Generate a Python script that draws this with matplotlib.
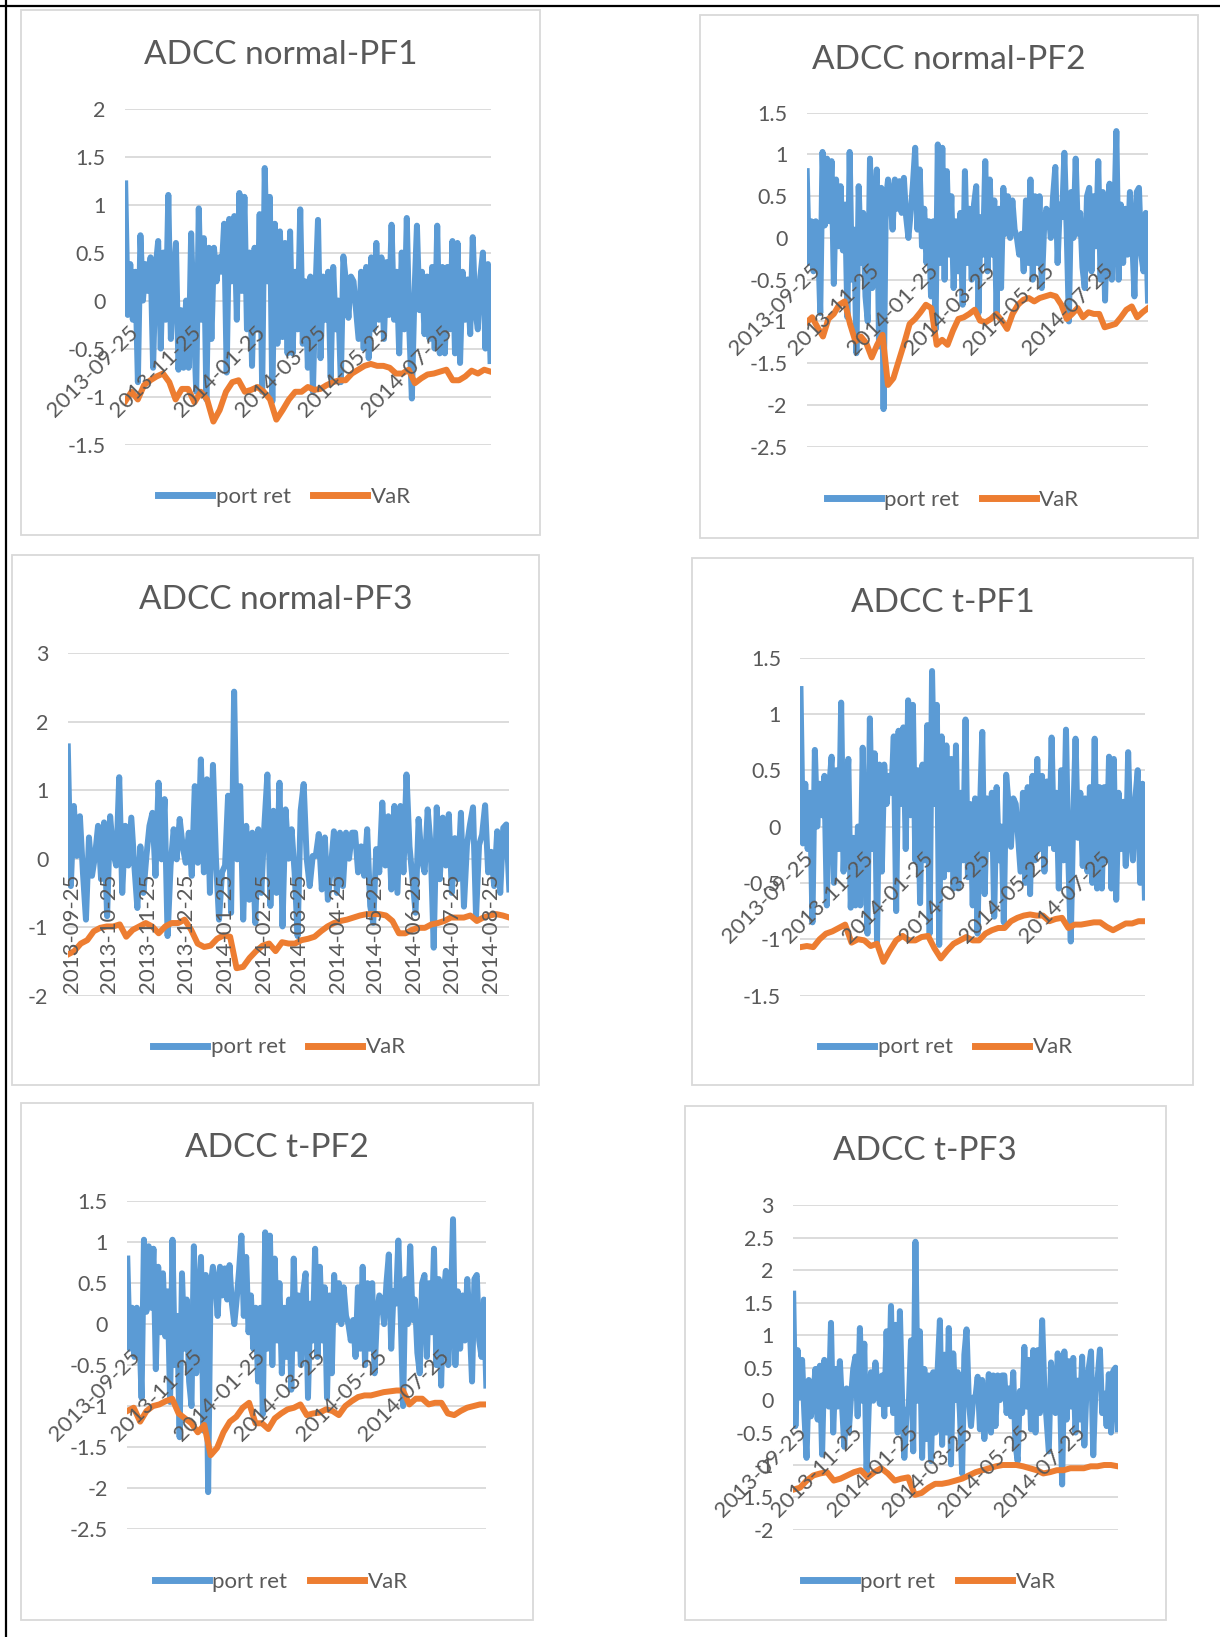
import numpy as np
import matplotlib
matplotlib.use("Agg")
import matplotlib.pyplot as plt
import matplotlib.dates as mdates
from matplotlib.transforms import ScaledTranslation
from matplotlib.patches import Rectangle
from matplotlib.lines import Line2D

plt.rcParams['font.family'] = ['Lato', 'DejaVu Sans']

# daily window of the back-test
start_date = '2013-09-25'
end_date = '2014-09-12'

# portfolio returns (shared by normal and t versions of each portfolio)
pf1_ret = [1.22, -0.15, 0.38, -0.2, 0.3, -0.85, 0.68, 0.0, 0.38, 0.1, 0.45, -0.7, 0.35, 0.62, -0.5, 0.5,
           -0.2, 1.1, -0.4, 0.2, 0.6, -0.72, -0.1, -0.7, 0.0, -0.7, 0.7, -0.2, -0.95, 0.96, -0.2, 0.65,
           -1.03, 0.55, -0.4, 0.55, 0.2, 0.45, 0.3, 0.8, -0.75, 0.85, 0.2, 0.88, -0.2, 1.12, 0.1, 1.08,
           -0.3, 0.5, -0.68, 0.55, -0.3, 0.9, -0.95, 1.38, 0.2, 1.08, -1.05, 0.8, -0.45, 0.72, -0.38, 0.6,
           -0.55, 0.72, -0.55, 0.3, -0.3, 0.95, -0.45, 0.2, -0.7, 0.25, -0.95, 0.1, 0.84, -0.6, 0.25, -0.2,
           0.3, -0.8, 0.35, -0.3, 0.0, -0.85, 0.46, 0.2, -0.18, 0.25, 0.2, -0.1, -0.4, 0.3, -0.5, 0.35,
           -0.6, 0.45, -0.3, 0.6, -0.2, 0.45, -0.4, 0.4, -0.15, 0.79, -0.2, 0.3, -0.55, 0.5, -0.3, 0.86,
           -0.3, -1.02, 0.05, 0.78, -0.1, 0.3, -0.35, 0.25, -0.4, 0.35, -0.5, 0.78, -0.55, 0.35, -0.55, 0.35,
           -0.3, 0.62, -0.55, 0.6, -0.65, 0.3, -0.2, 0.22, -0.35, 0.66, -0.1, -0.3, 0.25, 0.5, -0.5, 0.38,
           -0.63]
pf2_ret = [0.8, -0.3, 0.2, -0.4, 0.2, 0.0, -0.9, 1.03, 0.15, 0.95, 0.2, 0.92, -0.55, 0.7, -0.1, 0.62,
           -0.15, 0.4, -0.95, 1.03, -0.5, 0.1, -1.38, 0.62, -0.3, 0.3, -0.7, -1.0, 0.95, -0.6, 0.3, 0.82,
           -1.3, 0.6, -2.05, 0.45, 0.7, 0.5, 0.1, 0.7, 0.35, 0.68, 0.3, 0.72, 0.25, 0.0, 0.3, 0.65,
           1.08, 0.1, 0.82, -0.1, 0.35, -0.3, 0.2, -0.7, 0.2, -1.1, 1.12, -0.3, 1.08, -0.5, 0.8, -0.2,
           0.5, -0.6, 0.2, -0.4, 0.3, -0.8, 0.8, -0.3, 0.35, -0.5, 0.4, 0.62, -0.9, 0.25, -0.2, 0.92,
           -0.4, 0.7, -0.2, 0.45, -0.9, 0.35, -0.6, 0.6, 0.05, 0.5, 0.0, 0.45, 0.1, 0.0, -0.2, 0.05,
           -0.4, 0.45, -0.3, 0.7, -0.5, 0.5, -0.3, 0.5, -0.6, 0.1, 0.35, 0.3, 0.0, 0.5, 0.85, -0.3,
           0.4, 0.25, 1.02, 0.1, -1.0, 0.55, 0.0, 0.95, 0.05, 0.3, -0.35, -0.6, 0.5, 0.6, -0.4, 0.5,
           -0.1, 0.92, -0.5, 0.55, -0.75, 0.35, 0.65, -0.5, 0.1, 1.28, -0.5, 0.4, -0.3, 0.35, -0.2, 0.55,
           0.0, -0.7, 0.55, 0.6, -0.2, -0.4, 0.3, -0.75]
pf3_ret = [1.64, -0.4, 0.77, 0.04, 0.62, -0.2, -0.89, 0.31, -0.25, 0.04, 0.48, -0.3, 0.53, -0.84, 0.62, 0.09,
           -0.1, 1.19, -0.5, 0.48, -0.1, 0.6, -0.1, -0.72, 0.18, -0.5, 0.04, 0.48, 0.67, -0.25, 1.11, -0.01,
           0.87, -1.13, -0.1, 0.43, -0.01, 0.58, 0.18, -0.06, 0.38, -0.25, 1.06, -0.06, 1.45, -0.2, 1.16, -0.5,
           1.37, -0.01, -0.89, -0.2, -0.1, 0.92, -0.79, 2.44, -0.01, 1.06, -0.89, 0.48, -0.6, 0.38, -0.94, 0.43,
           -0.5, 0.48, 1.23, -0.69, 0.7, -0.5, 1.11, -0.99, 0.72, 0.0, 0.43, -0.2, -1.13, 0.7, 1.09, 0.0,
           -0.4, 0.04, 0.04, 0.36, -0.45, 0.31, -0.6, -0.13, 0.4, -0.5, 0.38, -0.4, 0.38, 0.0, 0.38, 0.38,
           -0.2, 0.18, -0.25, 0.43, -0.69, -0.94, 0.14, -0.2, 0.82, -0.1, 0.62, -0.45, 0.77, -0.5, 0.77, -0.2,
           1.23, 0.18, -0.3, -0.79, 0.58, 0.0, -0.2, 0.72, 0.18, -1.3, 0.75, -0.3, 0.6, -0.1, 0.65, -0.5,
           0.3, -0.3, 0.67, -0.7, 0.2, 0.5, 0.75, -0.85, 0.2, 0.35, 0.78, -0.2, 0.1, -0.4, 0.4, -0.5,
           0.45, 0.5, -0.45]

# one-day VaR forecasts
pf1_var_norm = [-1.05, -0.95, -1.03, -0.88, -0.83, -0.79, -0.76, -0.85, -1.03, -0.92, -0.92, -1.06, -0.95, -1.03,
                -1.26, -1.14, -0.95, -0.85, -0.83, -0.95, -0.93, -0.9, -0.95, -1.03, -1.24, -1.14, -1.03, -0.95,
                -0.95, -0.9, -0.93, -0.92, -0.88, -0.85, -0.83, -0.83, -0.76, -0.72, -0.68, -0.66, -0.68, -0.68,
                -0.7, -0.76, -0.76, -0.72, -0.86, -0.81, -0.77, -0.76, -0.74, -0.72, -0.83, -0.83, -0.79, -0.73,
                -0.76, -0.72, -0.74]
pf1_var_t = [-1.07, -1.06, -1.07, -1.0, -0.95, -0.93, -0.9, -0.87, -1.03, -1.0, -1.01, -1.06, -1.04, -1.2,
             -1.1, -1.01, -0.97, -1.01, -1.01, -0.98, -0.97, -1.08, -1.17, -1.1, -1.04, -1.01, -0.98, -1.01,
             -1.01, -0.95, -0.92, -0.9, -0.9, -0.84, -0.81, -0.79, -0.78, -0.79, -0.79, -0.84, -0.82, -0.81,
             -0.9, -0.87, -0.87, -0.86, -0.85, -0.85, -0.89, -0.92, -0.89, -0.86, -0.86, -0.84, -0.84]
pf2_var_norm = [-1.01, -0.95, -1.07, -1.18, -0.97, -0.91, -0.8, -0.76, -1.03, -1.24, -1.18, -1.26, -1.43,
                -1.28, -1.16, -1.76, -1.68, -1.47, -1.26, -1.03, -0.97, -0.89, -0.8, -0.84, -1.28, -1.22, -1.28,
                -1.11, -0.97, -0.95, -0.91, -0.86, -0.99, -1.01, -0.97, -0.91, -0.99, -1.09, -0.91, -0.8, -0.74,
                -0.72, -0.76, -0.72, -0.7, -0.68, -0.7, -0.8, -0.97, -0.91, -0.84, -0.95, -0.89, -0.91, -0.91,
                -1.07, -1.05, -1.03, -0.95, -0.86, -0.82, -0.95, -0.89, -0.84]
pf2_var_t = [-1.06, -1.02, -1.19, -1.06, -1.0, -0.98, -0.94, -0.91, -1.09, -1.15, -1.21, -1.32, -1.23, -1.6,
             -1.51, -1.32, -1.19, -1.13, -1.02, -0.96, -1.21, -1.21, -1.28, -1.15, -1.09, -1.04, -1.02, -0.98,
             -1.11, -1.09, -1.08, -1.04, -1.06, -1.11, -1.0, -0.94, -0.89, -0.87, -0.87, -0.85, -0.83, -0.82,
             -0.81, -0.81, -0.98, -0.91, -0.91, -0.98, -0.96, -0.96, -1.09, -1.11, -1.06, -1.02, -1.0, -0.98,
             -0.98]
pf3_var_norm = [-1.4, -1.35, -1.24, -1.19, -1.06, -1.01, -0.99, -0.99, -0.96, -1.14, -1.04, -0.99, -0.94,
                -0.99, -1.09, -0.99, -0.94, -0.94, -0.89, -1.04, -1.24, -1.29, -1.27, -1.17, -1.12, -1.14,
                -1.6, -1.58, -1.45, -1.35, -1.27, -1.24, -1.35, -1.22, -1.24, -1.24, -1.19, -1.17, -1.14, -1.06,
                -0.99, -0.94, -0.91, -0.89, -0.86, -0.83, -0.81, -0.81, -0.81, -0.83, -0.91, -1.09, -1.09, -1.04,
                -1.01, -1.01, -0.96, -0.94, -0.91, -0.86, -0.86, -0.86, -0.83, -0.91, -0.86, -0.83, -0.81, -0.83,
                -0.86]
pf3_var_t = [-1.38, -1.35, -1.24, -1.16, -1.13, -1.11, -1.24, -1.21, -1.16, -1.11, -1.08, -1.19, -1.11,
             -1.05, -1.13, -1.24, -1.21, -1.19, -1.46, -1.43, -1.35, -1.29, -1.29, -1.27, -1.24, -1.21, -1.16,
             -1.11, -1.08, -1.05, -1.02, -1.0, -1.0, -1.0, -1.02, -1.05, -1.08, -1.13, -1.11, -1.08, -1.08,
             -1.05, -1.05, -1.05, -1.02, -1.02, -1.0, -1.0, -1.02]

bimonthly = ['2013-09-25', '2013-11-25', '2014-01-25', '2014-03-25', '2014-05-25', '2014-07-25']
monthly = ['2013-09-25', '2013-10-25', '2013-11-25', '2013-12-25', '2014-01-25', '2014-02-25',
           '2014-03-25', '2014-04-25', '2014-05-25', '2014-06-25', '2014-07-25', '2014-08-25']

BLUE = '#5b9bd5'
ORANGE = '#ed7d31'
TXT = '#595959'
GRID = '#d9d9d9'

W, H = 1220, 1637
fig = plt.figure(figsize=(W / 100, H / 100), dpi=100)

t0 = mdates.datestr2num(start_date)
t1 = mdates.datestr2num(end_date)


def on_days(vals):
    return np.linspace(t0, t1, len(vals))


# box (x0, y0, x1, y1) and plot area (x0, x1, top, bottom) in pixels
panels = [
    dict(title='ADCC normal-PF1', ret=pf1_ret, var=pf1_var_norm, ylim=(-1.5, 2), step=0.5,
         box=(21, 10, 540, 535), plot=(125.2, 490.5, 108.5, 444.6), dates=bimonthly),
    dict(title='ADCC normal-PF2', ret=pf2_ret, var=pf2_var_norm, ylim=(-2.5, 1.5), step=0.5,
         box=(700, 15, 1198, 537.5), plot=(806.7, 1148, 112.7, 446.7), dates=bimonthly),
    dict(title='ADCC normal-PF3', ret=pf3_ret, var=pf3_var_norm, ylim=(-2, 3), step=1,
         box=(12.5, 555, 538.5, 1085.4), plot=(67.8, 509.3, 653.3, 995.6), dates=monthly),
    dict(title='ADCC t-PF1', ret=pf1_ret, var=pf1_var_t, ylim=(-1.5, 1.5), step=0.5,
         box=(692, 558, 1193, 1085.4), plot=(800.5, 1144.9, 657.5, 995.6), dates=bimonthly),
    dict(title='ADCC t-PF2', ret=pf2_ret, var=pf2_var_t, ylim=(-2.5, 1.5), step=0.5,
         box=(21, 1103, 533.3, 1619.7), plot=(127.3, 486.3, 1201.2, 1529.0), dates=bimonthly),
    dict(title='ADCC t-PF3', ret=pf3_ret, var=pf3_var_t, ylim=(-2, 3), step=0.5,
         box=(684.6, 1106, 1165.7, 1619.7), plot=(793.2, 1117.7, 1205.4, 1529.9), dates=bimonthly),
]

PX = 72 / 100  # points per pixel

for p in panels:
    bx0, by0, bx1, by1 = p['box']
    fig.add_artist(Rectangle((bx0 / W, 1 - by1 / H), (bx1 - bx0) / W, (by1 - by0) / H,
                             transform=fig.transFigure, fill=False, ec=GRID, lw=1.3))
    px0, px1, ptop, pbot = p['plot']
    ax = fig.add_axes([px0 / W, 1 - pbot / H, (px1 - px0) / W, (pbot - ptop) / H])

    ax.plot(on_days(p['ret']), p['ret'], color=BLUE, lw=4.3, zorder=3)
    ax.plot(on_days(p['var']), p['var'], color=ORANGE, lw=4.3, zorder=4)

    lo, hi = p['ylim']
    ticks = np.arange(lo, hi + p['step'] / 2, p['step'])
    ax.set_ylim(lo, hi)
    ax.set_xlim(t0, t1)
    ax.set_yticks(ticks)
    ax.set_yticklabels(['%g' % (round(v, 2) + 0.0) for v in ticks])
    ax.set_xticks([])
    ax.grid(axis='y', color=GRID, lw=1.3)
    ax.set_axisbelow(True)
    ax.tick_params(axis='y', length=0, pad=14, labelsize=15.5, labelcolor=TXT)
    for s in ax.spines.values():
        s.set_visible(False)

    # date labels hang under the zero line
    vertical = len(p['dates']) > 6
    for d in p['dates']:
        if vertical:
            off = ScaledTranslation(4 * PX / 72, -15 * PX / 72, fig.dpi_scale_trans)
            ax.text(mdates.datestr2num(d), 0, d, transform=ax.transData + off, rotation=90,
                    rotation_mode='anchor', ha='right', va='center', fontsize=16, color=TXT,
                    zorder=6, clip_on=False)
        else:
            off = ScaledTranslation(3 * PX / 72, -22 * PX / 72, fig.dpi_scale_trans)
            ax.text(mdates.datestr2num(d), 0, d, transform=ax.transData + off, rotation=45,
                    rotation_mode='anchor', ha='right', va='top', fontsize=16, color=TXT,
                    zorder=6, clip_on=False)

    cx = (bx0 + bx1) / 2
    fig.text(cx / W, 1 - (by0 + 45) / H, p['title'], ha='center', va='center',
             fontsize=24, color=TXT)
    handles = [Line2D([], [], color=BLUE, lw=5), Line2D([], [], color=ORANGE, lw=5)]
    fig.legend(handles, ['port ret', 'VaR'], loc='center', ncol=2, frameon=False,
               bbox_to_anchor=((cx + 4) / W, 1 - (by1 - 38) / H), fontsize=16,
               handlelength=2.45, handletextpad=0.15, columnspacing=1.0, labelcolor=TXT)

# outer frame on top and left
fig.add_artist(Line2D([0, 1], [1 - 6 / H, 1 - 6 / H], color='black', lw=1.6,
                      transform=fig.transFigure))
fig.add_artist(Line2D([6 / W, 6 / W], [0, 1], color='black', lw=1.6,
                      transform=fig.transFigure))

fig.savefig('out.png', dpi=100, facecolor='white')
